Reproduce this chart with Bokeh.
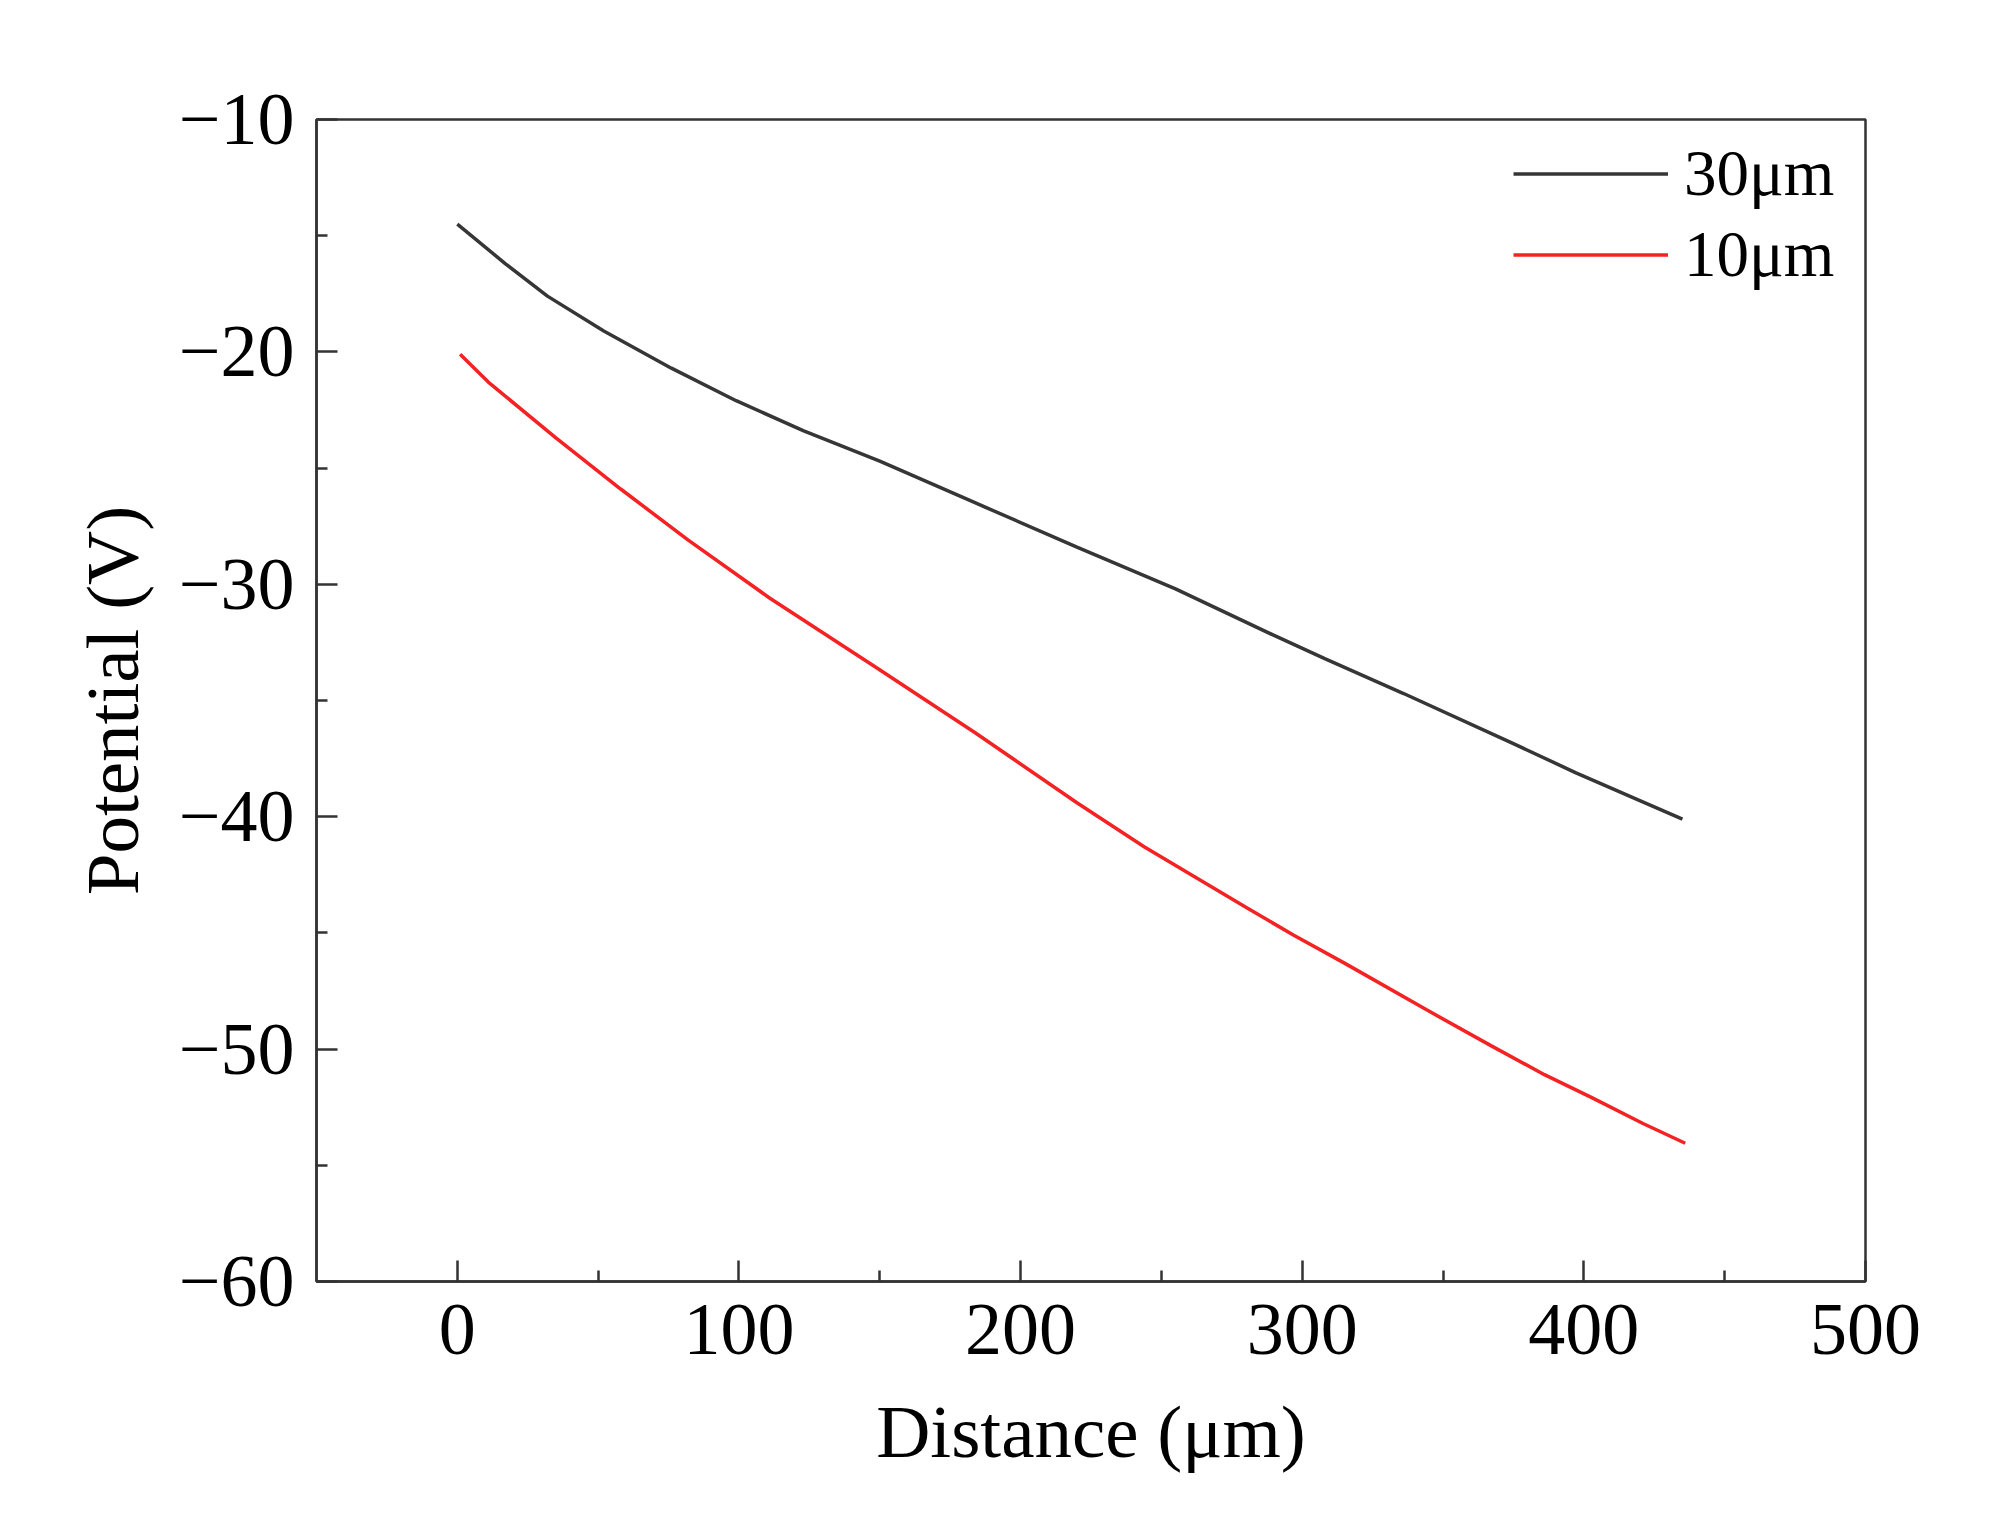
from bokeh.plotting import figure
from bokeh.models import Range1d, FixedTicker, Legend, LegendItem
from bokeh.embed import file_html
from bokeh.resources import INLINE

# ---- data ----
dist_30 = [0, 17, 32, 52, 76, 99, 123, 150, 184, 220, 255, 290, 308, 336, 374, 397, 435]
pot_30 = [-14.5, -16.2, -17.6, -19.1, -20.7, -22.1, -23.4, -24.7, -26.5, -28.4,
          -30.2, -32.2, -33.2, -34.7, -36.8, -38.1, -40.1]

dist_10 = [1, 11, 35, 58, 82, 111, 149, 184, 220, 244, 280, 297, 315, 344, 367, 386, 403, 421, 436]
pot_10 = [-20.1, -21.3, -23.7, -25.9, -28.1, -30.6, -33.6, -36.4, -39.4, -41.3,
          -43.9, -45.1, -46.3, -48.3, -49.85, -51.1, -52.1, -53.2, -54.05]

series_labels = ["30μm", "10μm"]
series_colors = ["#363636", "#f42222"]

x_ticks = [0, 100, 200, 300, 400, 500]
x_minor_ticks = [50, 150, 250, 350, 450]
y_ticks = [-60, -50, -40, -30, -20, -10]
y_tick_labels = ["\u221260", "\u221250", "\u221240", "\u221230", "\u221220", "\u221210"]
y_minor_ticks = [-55, -45, -35, -25, -15]

x_title = "Distance (μm)"
y_title = "Potential (V)"

FONT = "Liberation Serif"
AXIS_COLOR = "#333333"

p = figure(width=1984, height=1512, output_backend="svg", toolbar_location=None,
           x_range=Range1d(-50, 500), y_range=Range1d(-60, -10),
           min_border_left=316, min_border_right=119,
           min_border_top=119, min_border_bottom=231)

p.background_fill_color = "white"
p.border_fill_color = "white"
p.grid.visible = False
p.outline_line_color = AXIS_COLOR
p.outline_line_width = 2.5

p.xaxis.ticker = FixedTicker(ticks=x_ticks, minor_ticks=x_minor_ticks)
p.yaxis.ticker = FixedTicker(ticks=y_ticks, minor_ticks=y_minor_ticks)
p.yaxis.major_label_overrides = dict(zip(y_ticks, y_tick_labels))

for ax in (p.xaxis[0], p.yaxis[0]):
    ax.axis_line_color = AXIS_COLOR
    ax.axis_line_width = 2.5
    ax.major_tick_line_color = AXIS_COLOR
    ax.major_tick_line_width = 2.5
    ax.minor_tick_line_color = AXIS_COLOR
    ax.minor_tick_line_width = 2.5
    ax.major_tick_in = 21
    ax.major_tick_out = 0
    ax.minor_tick_in = 11
    ax.minor_tick_out = 0
    ax.major_label_text_font = FONT
    ax.major_label_text_font_size = "74px"
    ax.major_label_text_color = "black"
    ax.axis_label_text_font = FONT
    ax.axis_label_text_font_size = "75px"
    ax.axis_label_text_font_style = "normal"
    ax.axis_label_text_color = "black"

p.xaxis.axis_label = x_title
p.yaxis.axis_label = y_title
p.xaxis.major_label_standoff = 23
p.yaxis.major_label_standoff = 22
p.xaxis.axis_label_standoff = 33
p.yaxis.axis_label_standoff = 22

r30 = p.line(dist_30, pot_30, line_color=series_colors[0], line_width=3.5)
r10 = p.line(dist_10, pot_10, line_color=series_colors[1], line_width=3.5)

legend = Legend(items=[LegendItem(label=series_labels[0], renderers=[r30]),
                       LegendItem(label=series_labels[1], renderers=[r10])],
                location=(1197, 986))
legend.glyph_width = 155
legend.glyph_height = 81
legend.label_height = 81
legend.label_standoff = 16
legend.padding = 0
legend.margin = 0
legend.spacing = 0
legend.border_line_color = None
legend.background_fill_alpha = 0
legend.label_text_font = FONT
legend.label_text_font_size = "65px"
legend.label_text_color = "black"
p.add_layout(legend)

open("out.html", "w").write(file_html(p, INLINE))
